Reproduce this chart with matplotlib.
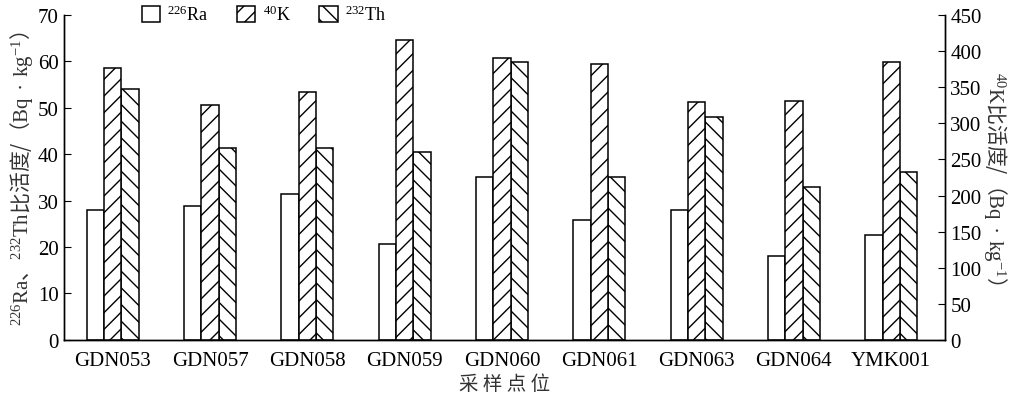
import numpy as np
import matplotlib
matplotlib.use('Agg')
import matplotlib.pyplot as plt

plt.rcParams['font.family'] = ['Liberation Serif', 'Noto Sans CJK SC']
plt.rcParams['mathtext.fontset'] = 'custom'
plt.rcParams['mathtext.rm'] = 'Liberation Serif'
plt.rcParams['mathtext.it'] = 'Liberation Serif:italic'
plt.rcParams['hatch.linewidth'] = 1.0

# data
sites = ['GDN053', 'GDN057', 'GDN058', 'GDN059', 'GDN060',
         'GDN061', 'GDN063', 'GDN064', 'YMK001']
ra226 = [28.0, 28.8, 31.5, 20.7, 35.1, 25.9, 28.0, 18.0, 22.7]
k40 = [377, 326, 343, 416, 390, 382, 329, 331, 385]
th232 = [54.0, 41.3, 41.3, 40.5, 59.9, 35.0, 48.0, 33.0, 36.1]

x = np.arange(len(sites))
w = 0.178

fig = plt.figure(figsize=(10.18, 4.02), dpi=100)
ax = fig.add_axes([0.063, 0.152, 0.865, 0.808])
ax2 = ax.twinx()

b1 = ax.bar(x - w, ra226, w, color='white', edgecolor='black', linewidth=1.1)
b3 = ax.bar(x + w, th232, w, color='white', edgecolor='black', linewidth=1.1, hatch='\\\\')
b2 = ax2.bar(x, k40, w, color='white', edgecolor='black', linewidth=1.1, hatch='//')

ax.set_xlim(-0.5, 8.55)
ax.set_ylim(0, 70)
ax2.set_ylim(0, 450)
ax.set_yticks(np.arange(0, 71, 10))
ax2.set_yticks(np.arange(0, 451, 50))
ax.set_xticks(x)
ax.set_xticklabels(sites)

for a in (ax, ax2):
    a.spines['top'].set_visible(False)
    for s in a.spines.values():
        s.set_linewidth(1.0)
ax.tick_params(axis='y', direction='in', length=5, labelsize=15, pad=4)
ax2.tick_params(axis='y', direction='in', length=5, labelsize=15, pad=4)
ax.tick_params(axis='x', length=0, labelsize=15, pad=8)

cjk = ['Noto Sans CJK SC', 'DejaVu Sans']
ax.set_ylabel(r'$\mathrm{^{226}Ra}$、$\mathrm{^{232}Th}$比活度/（$\mathrm{Bq\ \bullet\ kg^{-1}}$）',
              family=cjk, fontsize=15, color='#333333', labelpad=2)
ax2.set_ylabel(r'$\mathrm{^{40}K}$比活度/（$\mathrm{Bq\ \bullet\ kg^{-1}}$）',
               family=cjk, fontsize=15, color='#333333', rotation=-90, labelpad=20)
ax.set_xlabel('采 样 点 位', family=cjk, fontsize=14, color='#333333', labelpad=2)

ax.legend([b1, b2, b3],
          [r'$\mathrm{^{226}Ra}$', r'$\mathrm{^{40}K}$', r'$\mathrm{^{232}Th}$'],
          loc='upper left', bbox_to_anchor=(0.08, 1.055), ncol=3, frameon=False,
          fontsize=13, handlelength=1.0, handleheight=1.0, columnspacing=1.6,
          handletextpad=0.4, borderaxespad=0)

fig.savefig('out.png', dpi=100)
